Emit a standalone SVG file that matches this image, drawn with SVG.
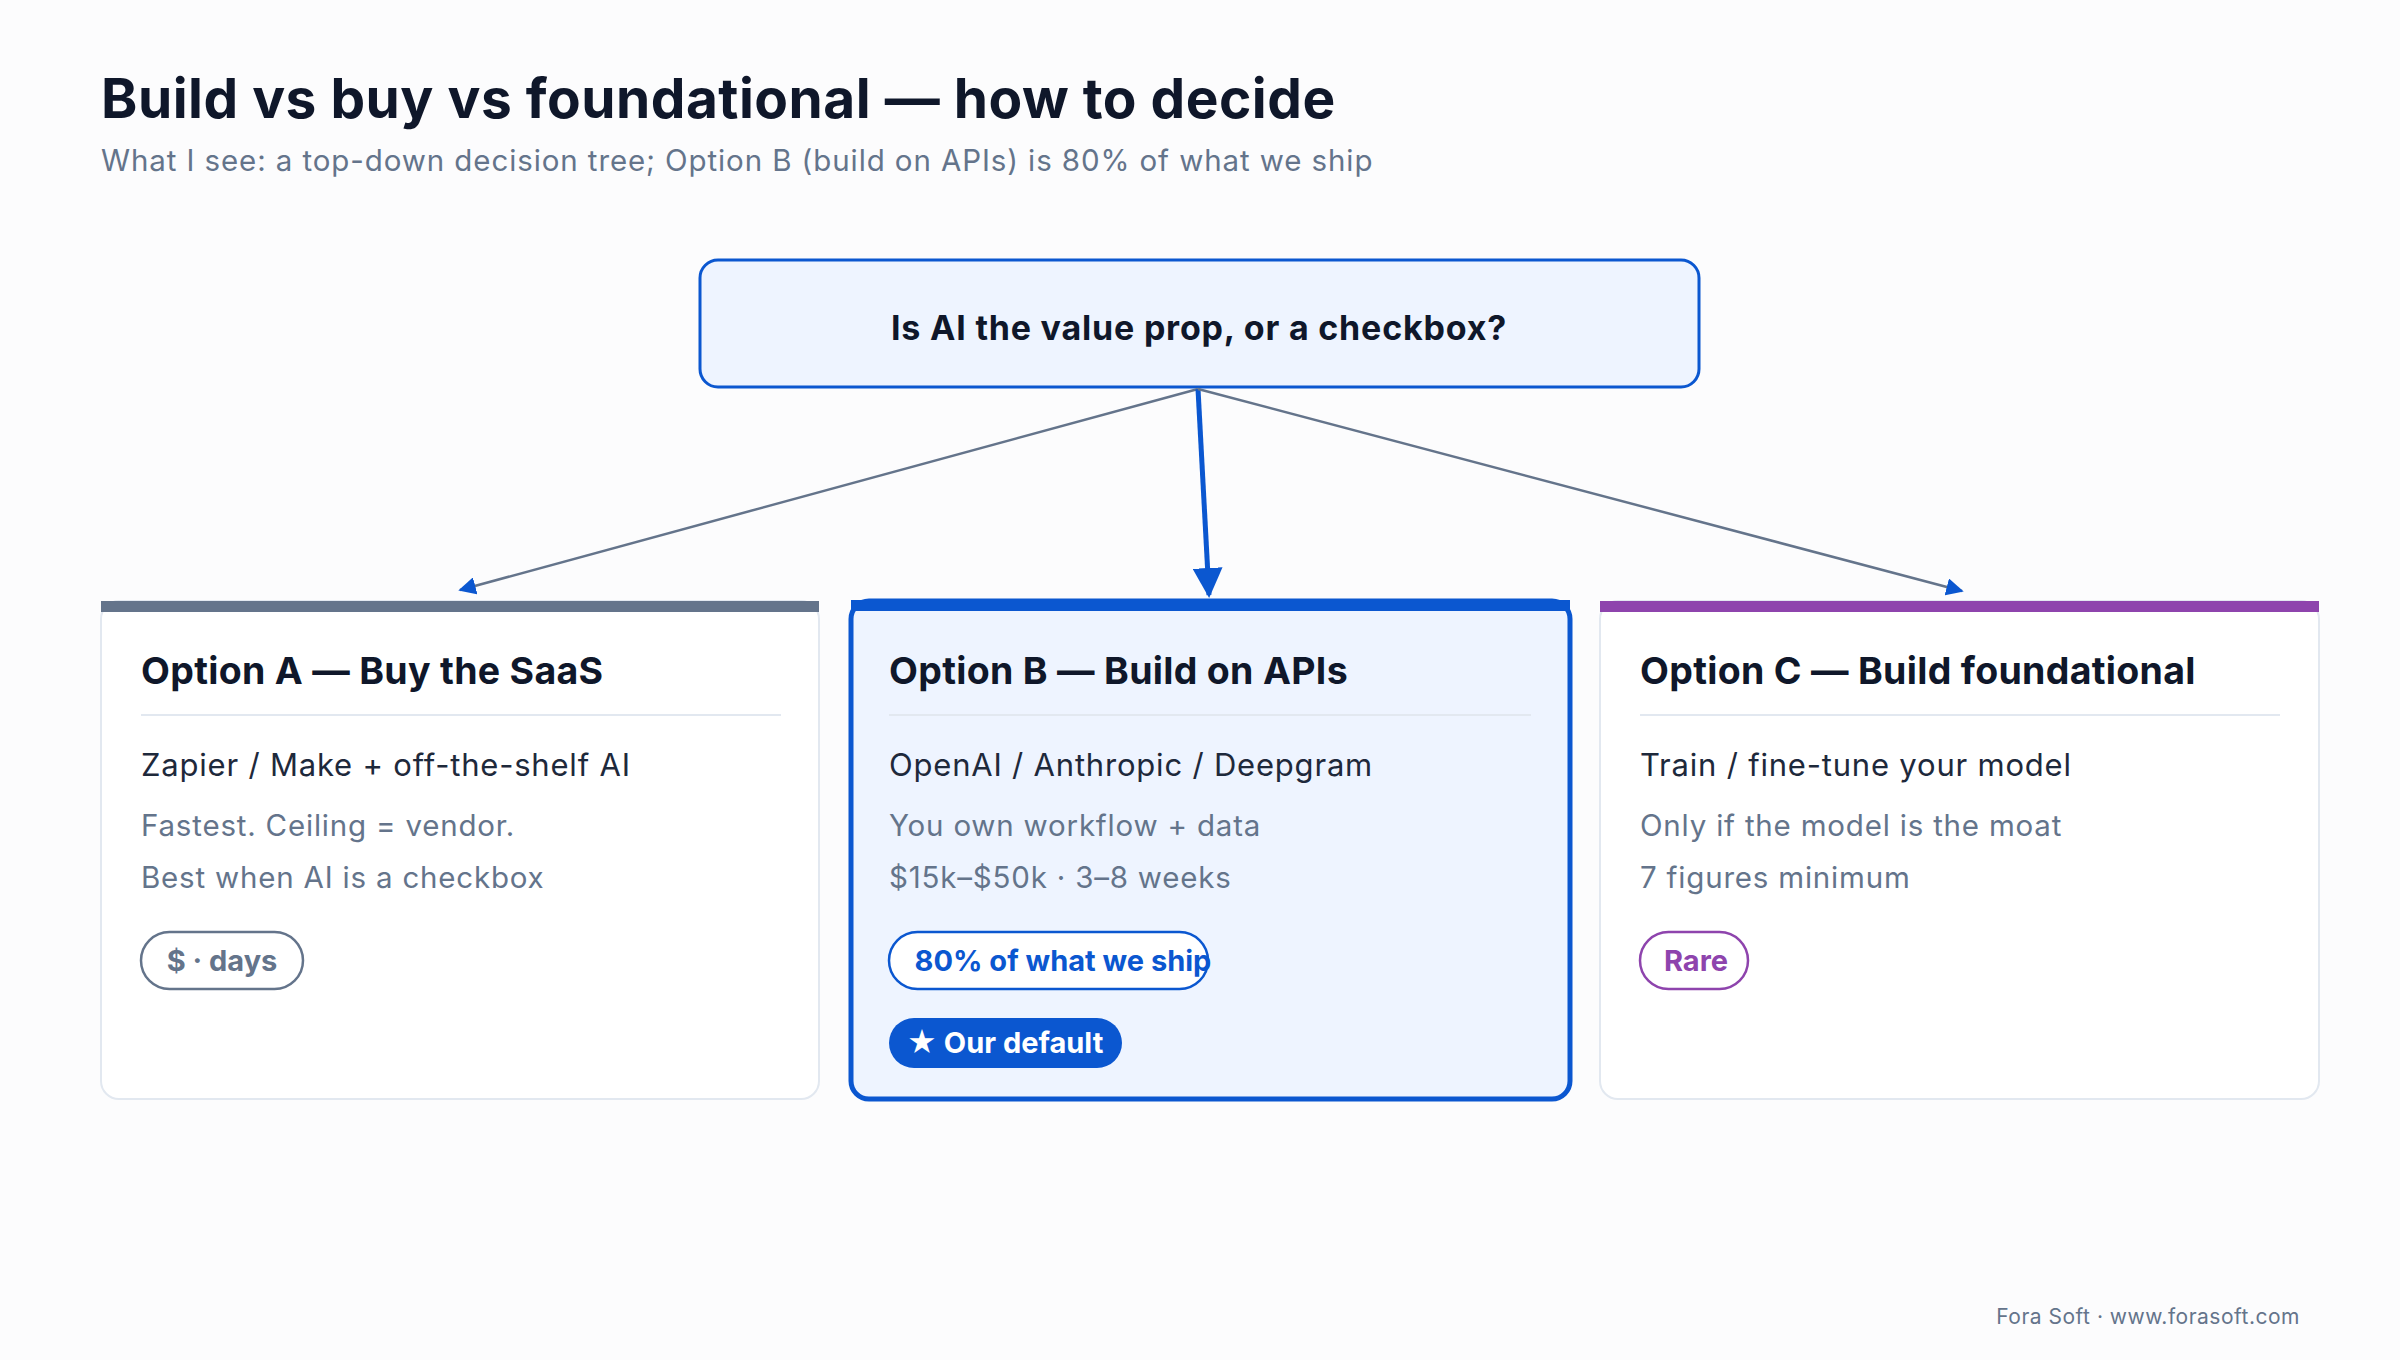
<svg xmlns="http://www.w3.org/2000/svg" width="2400" height="1360" viewBox="0 0 2400 1360">
<style>
text{font-family:Inter,"Noto Sans","Liberation Sans",sans-serif}
.t{font-size:37.5px;font-weight:700;fill:#0f172a;letter-spacing:0.3px}
.l1{font-size:31px;fill:#1e293b;letter-spacing:0.8px}
.l2{font-size:29.5px;fill:#64748b;letter-spacing:0.8px}
.card{fill:#fff;stroke:#e2e8f0;stroke-width:2}
.div{stroke:#e2e8f0;stroke-width:2}
.pt{font-size:29px;font-weight:700;text-anchor:middle}
</style>
<defs>
<marker id="ag" viewBox="0 0 10 10" refX="9" refY="5" markerWidth="7" markerHeight="7" orient="auto"><path d="M0,0L10,5L0,10z" fill="#0b57d0"/></marker>
<marker id="ab" viewBox="0 0 10 10" refX="9" refY="5" markerWidth="6" markerHeight="6" orient="auto"><path d="M0,0L10,5L0,10z" fill="#0b57d0"/></marker>
</defs>
<rect width="2400" height="1360" fill="#fcfcfd"/>
<text x="101" y="118" font-size="55" font-weight="700" fill="#0f172a" letter-spacing="0.5">Build vs buy vs foundational — how to decide</text>
<text x="101" y="171" font-size="29.5" fill="#64748b" letter-spacing="0.9">What I see: a top-down decision tree; Option B (build on APIs) is 80% of what we ship</text>
<g id="root">
<rect x="700" y="260" width="999" height="127" rx="18" fill="#eef4ff" stroke="#0b57d0" stroke-width="3"/>
<text x="1199" y="340" font-size="34" font-weight="700" fill="#0f172a" text-anchor="middle" letter-spacing="0.8">Is AI the value prop, or a checkbox?</text>
</g>
<g id="connectors" fill="none">
<line x1="1198" y1="389" x2="460" y2="590" stroke="#64748b" stroke-width="2.5" marker-end="url(#ag)"/>
<line x1="1198" y1="389" x2="1209" y2="595" stroke="#0b57d0" stroke-width="5" marker-end="url(#ab)"/>
<line x1="1198" y1="389" x2="1962" y2="591" stroke="#64748b" stroke-width="2.5" marker-end="url(#ag)"/>
</g>
<g id="optA">
<rect class="card" x="101" y="601" width="718" height="498" rx="18"/>
<rect x="101" y="601" width="718" height="11" fill="#64748b"/>
<text class="t" x="141" y="684">Option A — Buy the SaaS</text>
<line class="div" x1="141" y1="715" x2="781" y2="715"/>
<text class="l1" x="141" y="776">Zapier / Make + off-the-shelf AI</text>
<text class="l2" x="141" y="836">Fastest. Ceiling = vendor.</text>
<text class="l2" x="141" y="888">Best when AI is a checkbox</text>
<rect x="141" y="932" width="162" height="57" rx="28.5" fill="#fff" stroke="#64748b" stroke-width="2.5"/>
<text class="pt" x="222" y="971" fill="#64748b">$ · days</text>
</g>
<g id="optB">
<rect x="851" y="601" width="719" height="498" rx="18" fill="#eef4ff" stroke="#0b57d0" stroke-width="5"/>
<rect x="851" y="600" width="719" height="11" fill="#0b57d0"/>
<text class="t" x="889" y="684">Option B — Build on APIs</text>
<line class="div" x1="889" y1="715" x2="1531" y2="715"/>
<text class="l1" x="889" y="776">OpenAI / Anthropic / Deepgram</text>
<text class="l2" x="889" y="836">You own workflow + data</text>
<text class="l2" x="889" y="888">$15k–$50k · 3–8 weeks</text>
<rect x="889" y="932" width="319" height="57" rx="28.5" fill="#fff" stroke="#0b57d0" stroke-width="2.5"/>
<text class="pt" x="1063" y="971" fill="#0b57d0">80% of what we ship</text>
<rect x="889" y="1018" width="233" height="50" rx="25" fill="#0b57d0"/>
<text class="pt" x="1005" y="1053" fill="#fff" font-size="27">★ Our default</text>
</g>
<g id="optC">
<rect class="card" x="1600" y="601" width="719" height="498" rx="18"/>
<rect x="1600" y="601" width="719" height="11" fill="#8e44ad"/>
<text class="t" x="1640" y="684">Option C — Build foundational</text>
<line class="div" x1="1640" y1="715" x2="2280" y2="715"/>
<text class="l1" x="1640" y="776">Train / fine-tune your model</text>
<text class="l2" x="1640" y="836">Only if the model is the moat</text>
<text class="l2" x="1640" y="888">7 figures minimum</text>
<rect x="1640" y="932" width="108" height="57" rx="28.5" fill="#fff" stroke="#8e44ad" stroke-width="2.5"/>
<text class="pt" x="1696" y="971" fill="#8e44ad">Rare</text>
</g>
<text x="2300" y="1324" font-size="21" fill="#64748b" text-anchor="end" letter-spacing="0.5">Fora Soft · www.forasoft.com</text>
</svg>
